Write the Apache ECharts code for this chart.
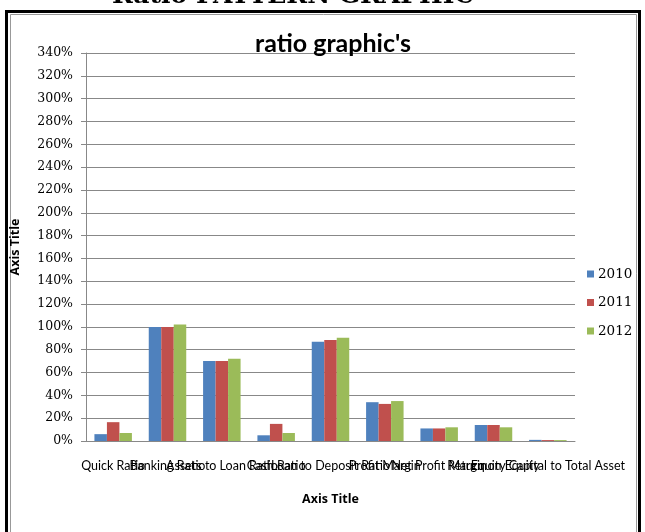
<!DOCTYPE html>
<html>
<head>
<meta charset="utf-8">
<script src="https://cdn.jsdelivr.net/npm/echarts@6/dist/echarts.min.js"></script>
<style>
  html, body { margin: 0; padding: 0; background: #fff; }
  #main { width: 645px; height: 532px; }
</style>
</head>
<body>
<div id="main"></div>
<script>
// 数据
var categories = ['Quick Ratio', 'Banking Ratio', 'Assets to Loan Ratio', 'Cash Ratio',
    'Loan to Deposit Ratio', 'Profit Margin', 'Net Profit Margin', 'Return on Equity',
    'Equity Capital to Total Asset'];
var years = ['2010', '2011', '2012'];
var values2010 = [6, 100, 70, 5, 87, 34, 11, 14, 1];
var values2011 = [16.5, 100, 70, 15, 88.5, 32.5, 11, 14, 0.8];
var values2012 = [7, 102, 72, 7, 90.5, 35, 12, 12, 0.8];
var colors = ['#4F81BD', '#C0504D', '#9BBB59'];

var myChart = echarts.init(document.getElementById('main'));

var seriesData = [values2010, values2011, values2012];
var series = years.map(function (y, i) {
    return {
        name: y,
        type: 'bar',
        data: seriesData[i],
        barGap: '0%',
        barCategoryGap: '31%',
        itemStyle: { color: colors[i] }
    };
});

option = {
    animation: false,
    backgroundColor: '#fff',
    title: {
        text: "ratio graphic's",
        left: 328,
        textAlign: 'center',
        top: 26,
        textStyle: {
            fontFamily: 'Lato',
            fontWeight: 'bold',
            fontSize: 25,
            color: '#000'
        }
    },
    legend: {
        orient: 'vertical',
        left: 582,
        top: 262,
        itemWidth: 7,
        itemHeight: 7,
        itemGap: 14.5,
        icon: 'rect',
        data: years,
        textStyle: {
            fontFamily: 'DejaVu Serif', fontWeight: 'normal', fontSize: 13.5, lineHeight: 14,
            color: '#000', padding: [0, 0, 0, -1]
        }
    },
    grid: { left: 86, right: 70, top: 53, bottom: 91 },
    xAxis: {
        type: 'category',
        data: categories,
        name: 'Axis Title',
        nameLocation: 'middle',
        nameGap: 52,
        nameTextStyle: { fontFamily: 'Open Sans', fontWeight: 'bold', fontSize: 12.5, color: '#000' },
        axisLine: { lineStyle: { color: '#888' } },
        axisTick: { show: false },
        axisLabel: {
            interval: 0,
            hideOverlap: false,
            margin: 18,
            fontFamily: 'Lato',
            fontSize: 12.5,
            color: '#000'
        }
    },
    yAxis: {
        type: 'value',
        min: 0,
        max: 340,
        interval: 20,
        name: 'Axis Title',
        nameLocation: 'middle',
        nameGap: 64,
        nameRotate: 90,
        nameTextStyle: { fontFamily: 'Open Sans', fontWeight: 'bold', fontSize: 12.5, color: '#000' },
        axisLine: { show: true, lineStyle: { color: '#888' } },
        axisTick: { show: true, length: 5, lineStyle: { color: '#888' } },
        axisLabel: {
            formatter: '{value}%',
            margin: 13,
            fontFamily: 'DejaVu Serif',
            fontSize: 12.5,
            color: '#000'
        },
        splitLine: { lineStyle: { color: '#888' } }
    },
    graphic: [
        {
            type: 'text',
            x: 112,
            y: -4,
            style: {
                text: 'Ratio PATTERN GRAPHIC',
                font: 'bold 25px "DejaVu Serif"',
                fill: '#000',
                verticalAlign: 'middle'
            }
        },
        {
            type: 'rect',
            shape: { x: 6.5, y: 11.5, width: 633, height: 540 },
            style: { fill: null, stroke: '#000', lineWidth: 3 }
        },
        {
            type: 'rect',
            shape: { x: 10.5, y: 14.5, width: 626, height: 540 },
            style: { fill: null, stroke: '#999', lineWidth: 1 }
        }
    ],
    series: series
};

myChart.setOption(option);
</script>
</body>
</html>
